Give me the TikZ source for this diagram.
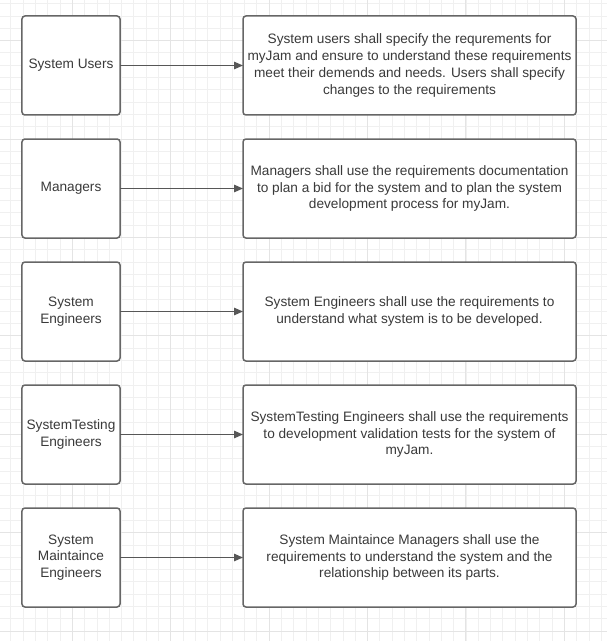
\documentclass[tikz,border=0pt]{standalone}
\usepackage{fontspec}
\setmainfont{Liberation Sans}
\usetikzlibrary{positioning}
\usetikzlibrary{arrows.meta}

\definecolor{boxline}{HTML}{666666}
\definecolor{txt}{HTML}{3A3A3A}
\definecolor{gridminor}{HTML}{F0F0F0}
\definecolor{gridmajor}{HTML}{E4E4E4}

\tikzset{
  role/.style={draw=boxline, line width=1.5bp, rounded corners=3bp, fill=white,
    minimum width=98bp, minimum height=99bp, inner sep=2bp, outer sep=0pt,
    align=center, text=txt, font=\fontsize{13.7}{16.8}\selectfont},
  duty/.style={role, minimum width=333bp},
  link/.style={draw=boxline!85!black, line width=1.3bp, -{Triangle[length=9bp,width=7.5bp]}}
}

\begin{document}
\begin{tikzpicture}[x=1bp,y=-1bp]
\useasboundingbox (0,0) rectangle (607,641);
% background grid
\foreach \i in {0,...,48} {
  \draw[gridminor, line width=0.8bp] (10.8+12.3*\i,0) -- (10.8+12.3*\i,641);
}
\foreach \i in {0,...,51} {
  \draw[gridminor, line width=0.8bp] (0,3.7+12.3*\i) -- (607,3.7+12.3*\i);
}
\foreach \i in {0,...,5} {
  \draw[gridmajor, line width=0.9bp] (72.3+98.4*\i,0) -- (72.3+98.4*\i,641);
}
\foreach \i in {0,...,6} {
  \draw[gridmajor, line width=0.9bp] (0,40.6+98.4*\i) -- (607,40.6+98.4*\i);
}

\node[role] (users) at (71,65.5) {System Users};
\node[role, below=24bp of users] (mgr) {Managers};
\node[role, below=24bp of mgr] (eng) {System\\Engineers};
\node[role, below=24bp of eng] (test) {SystemTesting\\Engineers};
\node[role, below=24bp of test] (maint) {System\\Maintaince\\Engineers};

\node[duty, right=123bp of users] (usersd) {System users shall specify the requrements for\\myJam and ensure to understand these requirements\\meet their demends and needs. Users shall specify\\changes to the requirements};
\node[duty, right=123bp of mgr] (mgrd) {Managers shall use the requirements documentation\\to plan a bid for the system and to plan the system\\development process for myJam.};
\node[duty, right=123bp of eng] (engd) {System Engineers shall use the requirements to\\understand what system is to be developed.};
\node[duty, right=123bp of test] (testd) {SystemTesting Engineers shall use the requirements\\to development validation tests for the system of\\myJam.};
\node[duty, right=123bp of maint] (maintd) {System Maintaince Managers shall use the\\requirements to understand the system and the\\relationship between its parts.};

\draw (users) edge[link] (usersd)
      (mgr) edge[link] (mgrd)
      (eng) edge[link] (engd)
      (test) edge[link] (testd)
      (maint) edge[link] (maintd);
\end{tikzpicture}
\end{document}
